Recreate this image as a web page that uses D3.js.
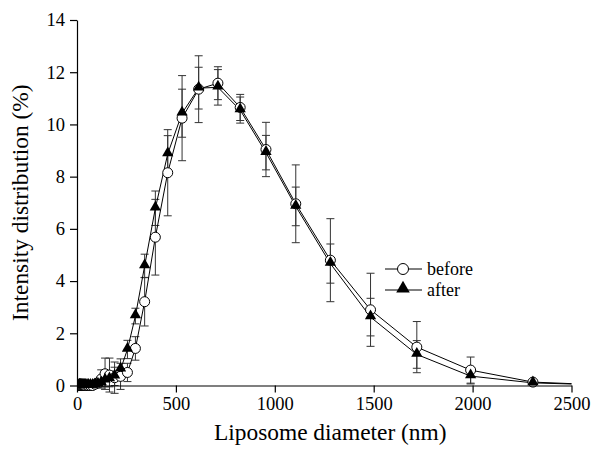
<!DOCTYPE html>
<html>
<head>
<meta charset="utf-8">
<script src="https://cdn.jsdelivr.net/npm/d3@7"></script>
<style>
  body { margin: 0; background: #fff; }
  text { font-family: "Liberation Serif", "Times New Roman", serif; fill: #000; }
</style>
</head>
<body>
<svg id="chart" width="594" height="451"></svg>
<script>
// size bins (nm) and intensity values (%)
var diameters = [10.1, 11.7, 13.54, 15.69, 18.17, 21.04, 24.36, 28.21, 32.67, 37.84, 43.82, 50.75, 58.77, 68.06, 78.82,
  91.28, 105.7, 122.4, 141.8, 164.2, 190.1, 220.2, 255.0, 295.3, 342.0, 396.1, 458.7, 531.2, 615.1, 712.4,
  825.0, 955.4, 1106, 1281, 1484, 1718, 1990, 2305, 2669];

var before = [0, 0, 0, 0, 0, 0, 0, 0, 0, 0, 0, 0, 0, 0, 0,
  0.05, 0.1, 0.25, 0.45, 0.4, 0.3, 0.35, 0.5, 1.42, 3.21, 5.68, 8.15, 10.24, 11.35, 11.58,
  10.65, 9.04, 6.96, 4.8, 2.9, 1.47, 0.59, 0.13, 0.02];
var beforeErr = [0, 0, 0, 0, 0, 0, 0, 0, 0, 0, 0, 0, 0, 0, 0,
  0.05, 0.15, 0.35, 0.6, 0.65, 0.6, 0.5, 0.35, 0.45, 0.93, 1.45, 1.65, 1.63, 1.28, 0.63,
  0.5, 1.04, 1.49, 1.59, 1.4, 0.98, 0.5, 0.05, 0];

var after = [0, 0, 0, 0, 0, 0, 0, 0, 0, 0, 0, 0, 0, 0, 0,
  0.02, 0.05, 0.1, 0.2, 0.25, 0.35, 0.62, 1.38, 2.66, 4.58, 6.79, 8.87, 10.43, 11.39, 11.42,
  10.55, 8.92, 6.86, 4.67, 2.62, 1.19, 0.36, 0.1, 0.02];
var afterErr = [0, 0, 0, 0, 0, 0, 0, 0, 0, 0, 0, 0, 0, 0, 0,
  0.02, 0.05, 0.15, 0.25, 0.3, 0.35, 0.4, 0.35, 0.3, 0.45, 0.66, 0.7, 0.92, 0.8, 0.68,
  0.5, 0.66, 0.74, 0.75, 0.72, 0.53, 0.3, 0.05, 0];

var xTicks = [0, 500, 1000, 1500, 2000, 2500];
var yTicks = [0, 2, 4, 6, 8, 10, 12, 14];

var svg = d3.select("#chart");
var mLeft = 77, mTop = 20, mRight = 571.5, mBottom = 385.5;
var serif = '"Liberation Serif", "Times New Roman", serif';

var x = d3.scaleLinear().domain([0, 2500]).range([mLeft, mRight]);
var y = d3.scaleLinear().domain([0, 14]).range([mBottom, mTop]);

function makeSeries(vals, errs) {
  return diameters.map(function (d, i) { return { d: d, v: vals[i], e: errs[i] }; });
}
var sBefore = makeSeries(before, beforeErr);
var sAfter = makeSeries(after, afterErr);

svg.append("clipPath").attr("id", "clip")
  .append("rect")
  .attr("x", mLeft).attr("y", 0)
  .attr("width", mRight - mLeft).attr("height", mBottom + 10);

var plot = svg.append("g").attr("clip-path", "url(#clip)");

// error bars
function drawErr(series) {
  var g = plot.append("g").attr("stroke", "#333").attr("stroke-width", 1);
  series.filter(function (p) { return p.e > 0; }).forEach(function (p) {
    var cx = x(p.d);
    g.append("line").attr("x1", cx).attr("x2", cx).attr("y1", y(p.v - p.e)).attr("y2", y(p.v + p.e));
    g.append("line").attr("x1", cx - 4).attr("x2", cx + 4).attr("y1", y(p.v + p.e)).attr("y2", y(p.v + p.e));
    g.append("line").attr("x1", cx - 4).attr("x2", cx + 4).attr("y1", y(p.v - p.e)).attr("y2", y(p.v - p.e));
  });
}
drawErr(sBefore);
drawErr(sAfter);

var line = d3.line().x(function (p) { return x(p.d); }).y(function (p) { return y(p.v); });

plot.append("path").datum(sBefore).attr("d", line)
  .attr("fill", "none").attr("stroke", "#000").attr("stroke-width", 1);
plot.append("path").datum(sAfter).attr("d", line)
  .attr("fill", "none").attr("stroke", "#000").attr("stroke-width", 1);

plot.append("g").selectAll("circle").data(sBefore).join("circle")
  .attr("cx", function (p) { return x(p.d); })
  .attr("cy", function (p) { return y(p.v); })
  .attr("r", 5)
  .attr("fill", "#fff").attr("stroke", "#000").attr("stroke-width", 1);

var tri = d3.symbol().type(d3.symbolTriangle).size(55);
plot.append("g").selectAll("path").data(sAfter).join("path")
  .attr("d", tri)
  .attr("transform", function (p) { return "translate(" + x(p.d) + "," + (y(p.v) - 1) + ")"; })
  .attr("fill", "#000");

// axes
var xAxis = svg.append("g").attr("transform", "translate(0," + mBottom + ")")
  .call(d3.axisBottom(x).tickValues(xTicks).tickFormat(d3.format("d")).tickSize(7).tickSizeOuter(0).tickPadding(4));
var yAxis = svg.append("g").attr("transform", "translate(" + mLeft + ",0)")
  .call(d3.axisLeft(y).tickValues(yTicks).tickFormat(d3.format("d")).tickSize(7).tickSizeOuter(0).tickPadding(5));
[xAxis, yAxis].forEach(function (a) {
  a.attr("font-family", serif).attr("font-size", 18.5);
  a.selectAll("text").style("font-family", serif).style("font-size", "18.5px");
  a.selectAll("path, line").attr("stroke", "#000").attr("stroke-width", 1.2);
});

svg.append("text")
  .attr("x", (mLeft + mRight) / 2 + 6).attr("y", 440)
  .attr("text-anchor", "middle").style("font-size", "23.4px")
  .text("Liposome diameter (nm)");

svg.append("text")
  .attr("transform", "translate(28," + ((mTop + mBottom) / 2) + ") rotate(-90)")
  .attr("text-anchor", "middle").style("font-size", "23.4px")
  .text("Intensity distribution (%)");

// legend
var legend = svg.append("g").attr("transform", "translate(385,269)");
legend.append("line").attr("x1", 0).attr("x2", 37).attr("y1", 0).attr("y2", 0).attr("stroke", "#000");
legend.append("circle").attr("cx", 18).attr("cy", 0).attr("r", 5.5).attr("fill", "#fff").attr("stroke", "#000");
legend.append("text").attr("x", 42).attr("y", 6).style("font-size", "18px").text("before");
legend.append("line").attr("x1", 0).attr("x2", 37).attr("y1", 21).attr("y2", 21).attr("stroke", "#000");
legend.append("path").attr("d", d3.symbol().type(d3.symbolTriangle).size(80))
  .attr("transform", "translate(18,19.5)").attr("fill", "#000");
legend.append("text").attr("x", 42).attr("y", 27).style("font-size", "18px").text("after");
</script>
</body>
</html>
